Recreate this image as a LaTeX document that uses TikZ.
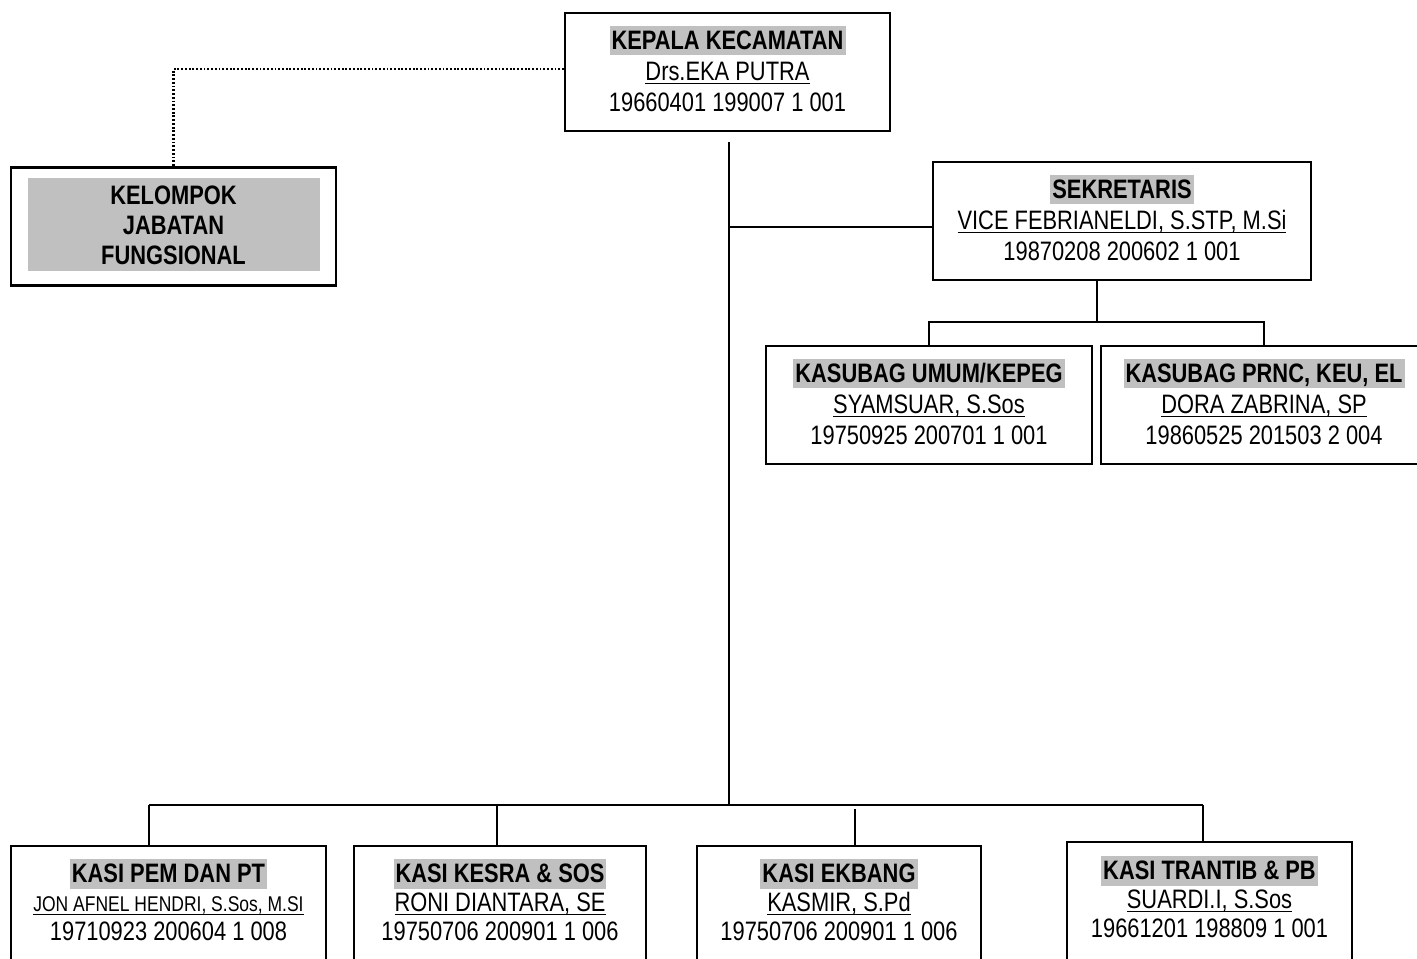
\documentclass[tikz,border=0pt]{standalone}
\usepackage{fontspec}
\setmainfont{Liberation Sans}[FakeStretch=0.82]
\usetikzlibrary{calc}
\definecolor{hlgray}{RGB}{192,192,192}
\newcommand\hlt[1]{{\setlength\fboxsep{0pt}\colorbox{hlgray}{\rule[-0.21em]{0pt}{1.1em}\hspace{1.5pt}\textbf{#1}\hspace{1.5pt}}}}
\newcommand\ulx[1]{{\setbox0\hbox{#1}\rlap{\rule[-2.6pt]{\wd0}{1.1pt}}\box0}}
\begin{document}
\begin{tikzpicture}[x=0.75pt,y=-0.75pt,
  orgbox/.style={draw=black,line width=1.7pt,inner sep=0pt,minimum height=118*0.75pt},
  uptxt/.style={inner sep=0pt,align=center,font=\fontsize{20}{23.25}\selectfont},
  lowtxt/.style={inner sep=0pt,align=center,font=\fontsize{20}{21.6}\selectfont},
  conn/.style={line width=1.5pt},
  dotconn/.style={line width=1.9pt,dash pattern=on 1.4pt off 1.4pt}]
\useasboundingbox (0,0) rectangle (1417,958);
\clip (0,0) rectangle (1417,958);

% gray fill of the functional group box
\fill[hlgray] (28,178) rectangle (320,271);

% boxes
\node[orgbox,minimum width=325*0.75pt] (kepala) at (727.5,72) {};
\node[orgbox,minimum width=325*0.75pt] (kjf) at (173.5,226.5) {};
\node[orgbox,minimum width=378*0.75pt] (sek) at (1122,221) {};
\node[orgbox,minimum width=326*0.75pt] (umum) at (929,405) {};
\node[orgbox,minimum width=326*0.75pt] (prnc) at (1264,405) {};
\node[orgbox,minimum width=315*0.75pt] (pem) at (168.5,905) {};
\node[orgbox,minimum width=292*0.75pt] (kesra) at (500,905) {};
\node[orgbox,minimum width=284*0.75pt] (ekbang) at (839,905) {};
\node[orgbox,minimum width=285*0.75pt] (trantib) at (1209.5,901) {};

% texts
\node[uptxt] (kepala-t) at ($(kepala)+(0,-3)$)
  {\hlt{KEPALA KECAMATAN}\\\ulx{Drs.EKA PUTRA}\\19660401 199007 1 001};
\node[uptxt,font=\bfseries\fontsize{20}{22.5}\selectfont] (kjf-t) at ($(kjf)+(0,-1)$)
  {KELOMPOK\\JABATAN\\FUNGSIONAL};
\node[uptxt] (sek-t) at ($(sek)+(0,-3)$)
  {\hlt{SEKRETARIS}\\\ulx{VICE FEBRIANELDI, S.STP, M.Si}\\19870208 200602 1 001};
\node[uptxt] (umum-t) at ($(umum)+(0,-3)$)
  {\hlt{KASUBAG UMUM/KEPEG}\\\ulx{SYAMSUAR, S.Sos}\\19750925 200701 1 001};
\node[uptxt] (prnc-t) at ($(prnc)+(0,-3)$)
  {\hlt{KASUBAG PRNC, KEU, EL}\\\ulx{DORA ZABRINA, SP}\\19860525 201503 2 004};
\node[lowtxt] (pem-t) at ($(pem)+(0,-5)$)
  {\hlt{KASI PEM DAN PT}\\{\fontsize{16}{21.6}\selectfont\ulx{JON AFNEL HENDRI, S.Sos, M.SI}}\\19710923 200604 1 008};
\node[lowtxt] (kesra-t) at ($(kesra)+(0,-5)$)
  {\hlt{KASI KESRA \& SOS}\\\ulx{RONI DIANTARA, SE}\\19750706 200901 1 006};
\node[lowtxt] (ekbang-t) at ($(ekbang)+(0,-5)$)
  {\hlt{KASI EKBANG}\\\ulx{KASMIR, S.Pd}\\19750706 200901 1 006};
\node[lowtxt] (trantib-t) at ($(trantib)+(0,-4)$)
  {\hlt{KASI TRANTIB \& PB}\\\ulx{SUARDI.I, S.Sos}\\19661201 198809 1 001};

% connectors
\coordinate (m0) at (729,142);
\coordinate (m1) at (729,805);
\coordinate (js) at (729,227);
\draw[conn] (m0) -- (m1);
\draw[conn] (js) -- (js -| sek.west);

\coordinate (s0) at (1097,280);
\coordinate (s1) at (1097,322);
\draw[conn] (s0) -- (s1);
\draw[conn] (umum.north) -- (umum.north |- s1) -| (prnc.north);

\coordinate (b0) at (149,805);
\coordinate (b1) at (497,805);
\coordinate (b2) at (855,809);
\coordinate (b3) at (1203,805);
\draw[conn] (b0) -- (b3);
\draw[conn] (b0) -- (b0 |- pem.north);
\draw[conn] (b1) -- (b1 |- kesra.north);
\draw[conn] (b2) -- (b2 |- ekbang.north);
\draw[conn] (b3) -- (b3 |- trantib.north);

\draw[dotconn] ($(kepala.west)+(0,-3)$) -| (kjf.north);
\end{tikzpicture}
\end{document}
